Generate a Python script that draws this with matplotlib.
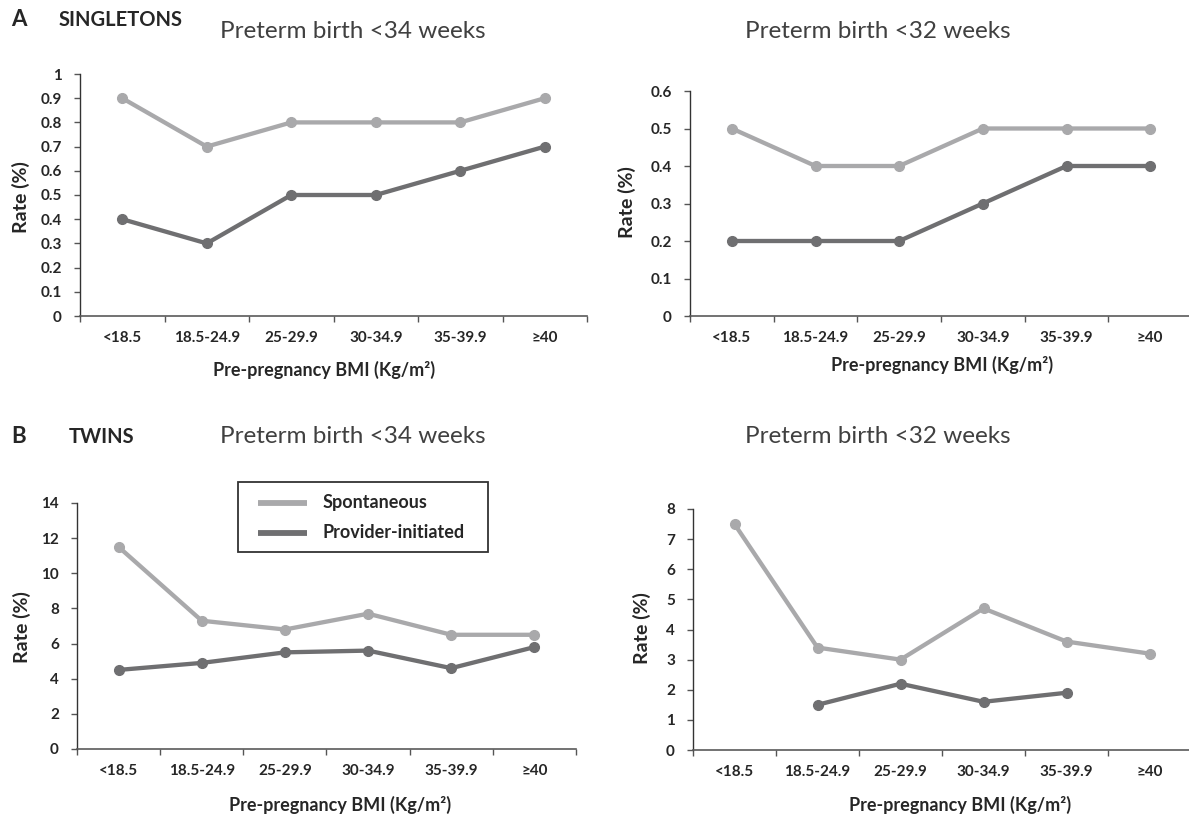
import numpy as np
import matplotlib
matplotlib.use("Agg")
import matplotlib.pyplot as plt
from matplotlib import font_manager as fm
from matplotlib.lines import Line2D
from matplotlib.patches import Rectangle

categories = ["<18.5", "18.5-24.9", "25-29.9", "30-34.9", "35-39.9", "≥40"]

single34_spont = [0.9, 0.7, 0.8, 0.8, 0.8, 0.9]
single34_prov = [0.4, 0.3, 0.5, 0.5, 0.6, 0.7]
single32_spont = [0.5, 0.4, 0.4, 0.5, 0.5, 0.5]
single32_prov = [0.2, 0.2, 0.2, 0.3, 0.4, 0.4]
twin34_spont = [11.5, 7.3, 6.8, 7.7, 6.5, 6.5]
twin34_prov = [4.5, 4.9, 5.5, 5.6, 4.6, 5.8]
twin32_spont = [7.5, 3.4, 3.0, 4.7, 3.6, 3.2]
twin32_prov = [np.nan, 1.5, 2.2, 1.6, 1.9, np.nan]

series_names = ["Spontaneous", "Provider-initiated"]
C_SPONT = "#a9a9ab"
C_PROV = "#6f6f71"
TXT = "#262626"


def _is_bold(f):
    w = f.weight
    if isinstance(w, str):
        return w.lower() in ("bold", "heavy", "black", "extra bold", "semibold", "demibold")
    return w >= 600


def pick_bold(cands):
    names = {f.name for f in fm.fontManager.ttflist if _is_bold(f)}
    for c in cands:
        if c in names:
            return c
    return "DejaVu Sans"


BOLD = pick_bold(["Lato", "Open Sans", "Roboto", "Noto Sans", "Liberation Sans"])
REG = "Lato"
plt.rcParams['font.family'] = [REG, 'DejaVu Sans']

W, H = 1189, 817
fig = plt.figure(figsize=(W / 100, H / 100), dpi=100)


def px_axes(x0, y0, x1, y1):
    return fig.add_axes([x0 / W, 1 - y1 / H, (x1 - x0) / W, (y1 - y0) / H])


def bold_font(size):
    return fm.FontProperties(family=[BOLD, 'DejaVu Sans'], weight='bold', size=size)


def panel(ax, box, spont, prov, ymax, ystep, yfmt, ylab_px, xlab_px):
    x0, y0, x1, y1 = box
    x = np.arange(len(categories))
    ax.plot(x, spont, color=C_SPONT, lw=3.1, marker='o', ms=7, solid_capstyle='round', clip_on=False)
    ax.plot(x, prov, color=C_PROV, lw=3.1, marker='o', ms=7, solid_capstyle='round', clip_on=False)
    ax.set_xlim(-0.5, len(categories) - 0.5)
    ax.set_ylim(0, ymax)
    yt = np.arange(0, ymax + ystep / 2, ystep)
    ax.set_yticks(yt)
    ax.set_yticklabels([yfmt(v) for v in yt])
    ax.set_xticks(x)
    ax.set_xticklabels(categories)
    for t in ax.get_xticklabels() + ax.get_yticklabels():
        t.set_fontproperties(bold_font(11))
        t.set_color(TXT)
    ax.set_xticks(np.arange(-0.5, len(categories)), minor=True)
    ax.tick_params(axis='x', which='major', length=0, pad=11)
    ax.tick_params(axis='x', which='minor', length=4.5, width=1, color='#555555')
    ax.tick_params(axis='y', length=4, width=1, color='#555555', pad=9)
    for s in ['top', 'right']:
        ax.spines[s].set_visible(False)
    ax.spines['left'].set_color('#333333')
    ax.spines['bottom'].set_color('#5a5a5a')
    ax.spines['left'].set_linewidth(1)
    ax.spines['bottom'].set_linewidth(1.2)
    ax.set_ylabel("Rate (%)", fontproperties=bold_font(14), color=TXT)
    ax.set_xlabel("Pre-pregnancy BMI (Kg/m²)", fontproperties=bold_font(13), color=TXT)
    lx, ly = ylab_px
    ax.yaxis.set_label_coords((lx - x0) / (x1 - x0), (y1 - ly) / (y1 - y0))
    ax.yaxis.label.set_va('center')
    ax.yaxis.label.set_ha('center')
    xx, xy = xlab_px
    ax.xaxis.set_label_coords((xx - x0) / (x1 - x0), (y1 - xy) / (y1 - y0))
    ax.xaxis.label.set_va('center')
    ax.patch.set_alpha(0)


def fmt_dec(v):
    if abs(v) < 1e-9:
        return "0"
    if abs(v - round(v)) < 1e-9:
        return str(int(round(v)))
    return f"{v:.1f}"


def fmt_int(v):
    return str(int(round(v)))


boxA1 = (80, 74, 587, 316)
boxA2 = (690, 91, 1192, 316)
boxB1 = (77, 503, 576, 749)
boxB2 = (693, 509, 1191, 750)

ax1 = px_axes(*boxA1)
panel(ax1, boxA1, single34_spont, single34_prov, 1.0, 0.1, fmt_dec, (21, 197), (324, 370))
ax2 = px_axes(*boxA2)
panel(ax2, boxA2, single32_spont, single32_prov, 0.6, 0.1, fmt_dec, (627, 202), (942, 365))
ax3 = px_axes(*boxB1)
panel(ax3, boxB1, twin34_spont, twin34_prov, 14, 2, fmt_int, (22, 627), (340, 805))
ax4 = px_axes(*boxB2)
panel(ax4, boxB2, twin32_spont, twin32_prov, 8, 1, fmt_int, (642, 628), (960, 805))

# Titles
title_kw = dict(fontsize=17.5, color='#404040', ha='center', va='center', family=[REG, 'DejaVu Sans'])
fig.text(353 / W, 1 - 32 / H, "Preterm birth <34 weeks", **title_kw)
fig.text(878 / W, 1 - 32 / H, "Preterm birth <32 weeks", **title_kw)
fig.text(353 / W, 1 - 437 / H, "Preterm birth <34 weeks", **title_kw)
fig.text(878 / W, 1 - 437 / H, "Preterm birth <32 weeks", **title_kw)

fig.text(11 / W, 1 - 20 / H, "A", fontproperties=bold_font(16), color=TXT, ha='left', va='center')
fig.text(59 / W, 1 - 20 / H, "SINGLETONS", fontproperties=bold_font(14.5), color=TXT, ha='left', va='center')
fig.text(11 / W, 1 - 437 / H, "B", fontproperties=bold_font(16), color=TXT, ha='left', va='center')
fig.text(69 / W, 1 - 437 / H, "TWINS", fontproperties=bold_font(14.5), color=TXT, ha='left', va='center')


def fx(px):
    return px / W


def fy(py):
    return 1 - py / H


# Legend drawn in figure pixel coordinates
fig.add_artist(Rectangle((fx(238), fy(552)), fx(488) - fx(238), fy(482) - fy(552),
                         transform=fig.transFigure, fill=False, edgecolor='#333333', lw=1.3))
for name, col, yy in zip(series_names, [C_SPONT, C_PROV], [503, 533]):
    fig.add_artist(Line2D([fx(258), fx(307)], [fy(yy), fy(yy)], transform=fig.transFigure,
                          color=col, lw=4.2, solid_capstyle='butt'))
    fig.text(fx(323), fy(yy), name, fontproperties=bold_font(13), color=TXT, ha='left', va='center')

fig.savefig("out.png", dpi=100)
